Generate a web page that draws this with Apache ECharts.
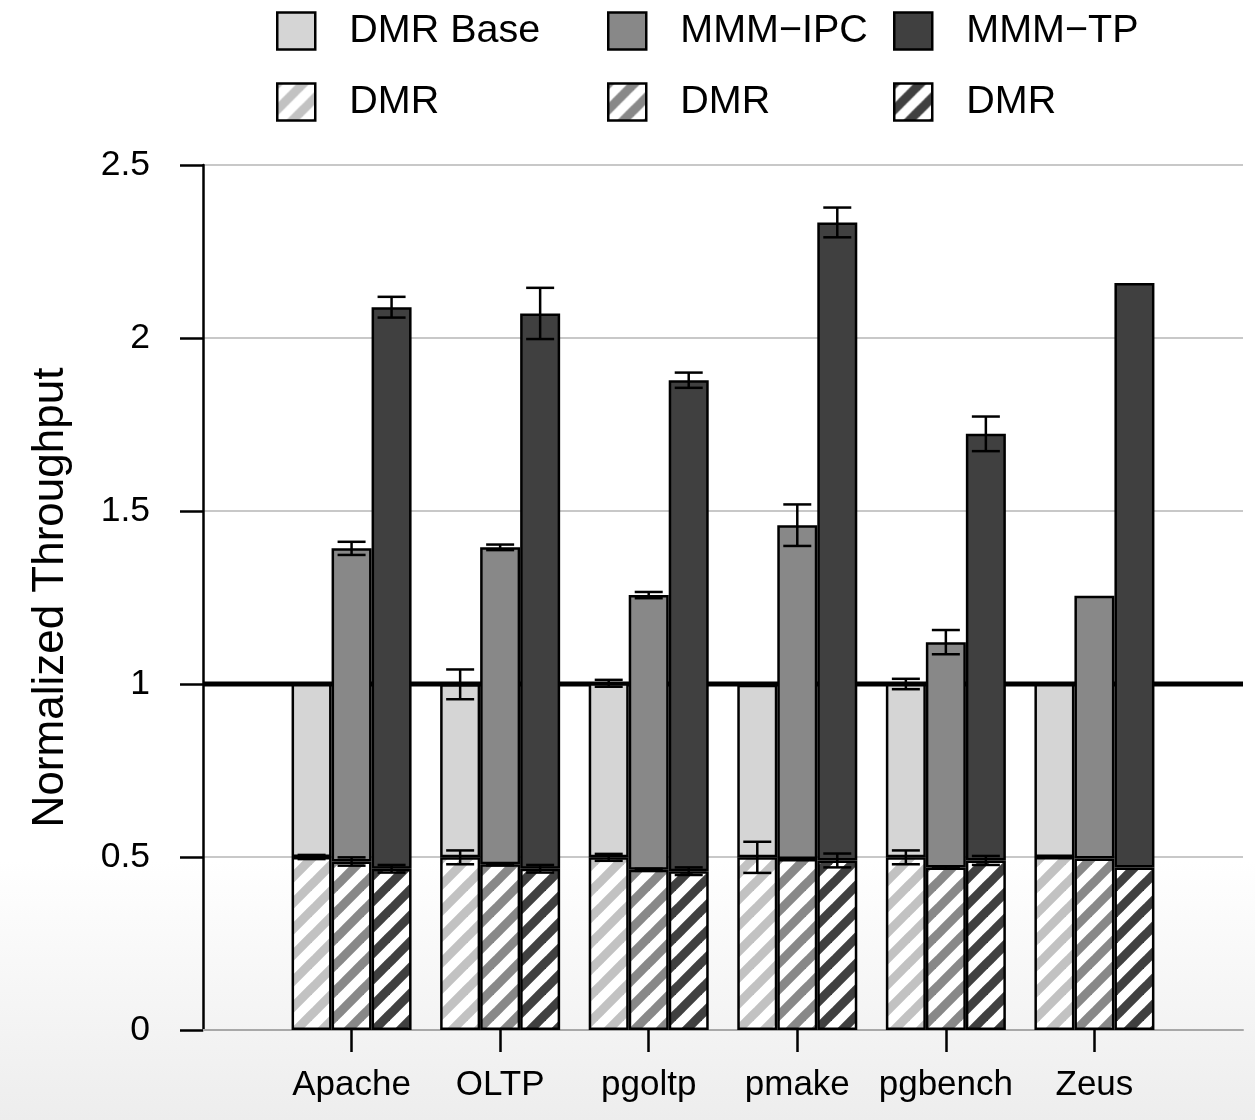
<!DOCTYPE html>
<html>
<head>
<meta charset="utf-8">
<script src="https://cdn.jsdelivr.net/npm/echarts@6/dist/echarts.min.js"></script>
<style>
  html, body { margin: 0; padding: 0; }
  body { width: 1255px; height: 1120px; background: linear-gradient(to bottom, #ffffff 0px, #ffffff 860px, #ededed 1120px); }
  #chart { width: 1255px; height: 1120px; }
</style>
</head>
<body>
<div id="chart"></div>
<script>
// ---------------- data ----------------
const categories = ['Apache', 'OLTP', 'pgoltp', 'pmake', 'pgbench', 'Zeus'];
const yTicks = [0, 0.5, 1, 1.5, 2, 2.5];
const refValue = 1;

// hatched (DMR) part and total height of each column
const dmrInBase    = [0.500, 0.499, 0.499, 0.499, 0.499, 0.500];
const dmrBaseTotal = [1.000, 0.999, 1.002, 0.998, 1.000, 1.000];
const dmrInIpc     = [0.487, 0.479, 0.463, 0.494, 0.470, 0.496];
const ipcTotal     = [1.392, 1.395, 1.257, 1.459, 1.121, 1.255];
const dmrInTp      = [0.466, 0.466, 0.459, 0.490, 0.490, 0.470];
const tpTotal      = [2.089, 2.071, 1.878, 2.334, 1.723, 2.159];

// error half-widths (null = no error bar)
const errDmrInBase    = [0.006, 0.020, 0.010, 0.045, 0.020, null];
const errDmrBaseTotal = [0.002, 0.043, 0.010, 0.002, 0.015, null];
const errDmrInIpc     = [0.012, 0.003, 0.003, null, 0.003, null];
const errIpcTotal     = [0.019, 0.008, 0.009, 0.060, 0.035, null];
const errDmrInTp      = [0.011, 0.011, 0.011, 0.020, 0.013, null];
const errTpTotal      = [0.030, 0.074, 0.022, 0.043, 0.050, null];

// ---------------- styling helpers ----------------
function fontAvailable(name) {
  const c = document.createElement('canvas').getContext('2d');
  c.font = '40px monospace';
  const w0 = c.measureText('Apache pgbench').width;
  c.font = '40px "' + name + '", monospace';
  return c.measureText('Apache pgbench').width !== w0;
}
const narrowOK = fontAvailable('Liberation Sans Narrow');
const xLabelFont = narrowOK ? 'Liberation Sans Narrow' : 'Liberation Sans';
const xLabelSize = narrowOK ? 42 : 35;

function hatch(color) {
  const S = 26;
  const cv = document.createElement('canvas');
  cv.width = S; cv.height = S;
  const c = cv.getContext('2d');
  c.fillStyle = '#ffffff';
  c.fillRect(0, 0, S, S);
  c.strokeStyle = color;
  c.lineWidth = 9;
  for (const o of [-S, 0, S]) {
    c.beginPath();
    c.moveTo(o - 3, S + 3);
    c.lineTo(o + S + 3, -3);
    c.stroke();
  }
  return { image: cv, repeat: 'repeat' };
}

const COL_BASE = '#d5d5d5', COL_IPC = '#888888', COL_TP = '#404040';
const HATCH_BASE = '#c2c2c2';
const BAR_W = 40;
const ERR_CAP = 28;
const LINE_W = 2.5;

// axis categories padded with empty slots on both sides
const axisCats = [''].concat(categories, ['']);
function pad(arr) { return ['-'].concat(arr, ['-']); }
function diff(a, b) { return a.map((v, i) => +(v - b[i]).toFixed(4)); }

function errData(vals, errs) {
  const out = [];
  vals.forEach((v, i) => {
    if (errs[i] != null) out.push([i + 1, v - errs[i], v + errs[i]]);
  });
  return out;
}

function errSeries(vals, errs, offsetIdx) {
  return {
    type: 'custom',
    silent: true,
    z: 10,
    data: errData(vals, errs),
    renderItem: function (params, api) {
      const idx = api.value(0);
      const lo = api.coord([idx, api.value(1)]);
      const hi = api.coord([idx, api.value(2)]);
      const x = lo[0] + offsetIdx * BAR_W;
      const st = { stroke: '#000', lineWidth: LINE_W };
      return {
        type: 'group',
        children: [
          { type: 'line', shape: { x1: x, y1: lo[1], x2: x, y2: hi[1] }, style: st },
          { type: 'line', shape: { x1: x - ERR_CAP / 2, y1: lo[1], x2: x + ERR_CAP / 2, y2: lo[1] }, style: st },
          { type: 'line', shape: { x1: x - ERR_CAP / 2, y1: hi[1], x2: x + ERR_CAP / 2, y2: hi[1] }, style: st }
        ]
      };
    }
  };
}

function barSeries(name, stack, data, color) {
  return {
    name: name,
    type: 'bar',
    stack: stack,
    barWidth: BAR_W,
    barGap: '0%',
    z: 2,
    data: pad(data),
    itemStyle: { color: color, borderColor: '#000', borderWidth: LINE_W }
  };
}

const legendCommon = {
  orient: 'vertical',
  top: 11,
  padding: 0,
  itemWidth: 38,
  itemHeight: 37,
  itemGap: 31,
  selectedMode: false,
  icon: 'rect',
  itemStyle: { borderColor: '#000', borderWidth: LINE_W },
  textStyle: { fontFamily: 'Liberation Sans', fontSize: 39.5, color: '#000', lineHeight: 37, padding: [0, 0, 0, 29] },
  formatter: function (n) { return n.indexOf('DMR-') === 0 ? 'DMR' : n; }
};

const option = {
  animation: false,
  backgroundColor: 'transparent',
  textStyle: { fontFamily: 'Liberation Sans' },
  grid: { left: 203, right: 12, top: 165, bottom: 90, containLabel: false },
  legend: [
    Object.assign({}, legendCommon, { left: 276, data: ['DMR Base', 'DMR-base'] }),
    Object.assign({}, legendCommon, { left: 607, data: ['MMM\u2212IPC', 'DMR-ipc'] }),
    Object.assign({}, legendCommon, { left: 893, data: ['MMM\u2212TP', 'DMR-tp'] })
  ],
  xAxis: {
    type: 'category',
    data: axisCats,
    boundaryGap: false,
    axisLine: { lineStyle: { color: '#a8a8a8', width: 2 } },
    axisTick: {
      show: true, length: 22,
      interval: function (i, v) { return v !== ''; },
      lineStyle: { color: '#000', width: LINE_W }
    },
    axisLabel: {
      interval: 0, margin: 38, color: '#000',
      fontFamily: xLabelFont, fontSize: xLabelSize
    },
    splitLine: { show: false }
  },
  yAxis: {
    type: 'value',
    min: yTicks[0], max: yTicks[yTicks.length - 1], interval: yTicks[1] - yTicks[0],
    name: 'Normalized Throughput',
    nameLocation: 'middle',
    nameGap: 130,
    nameTextStyle: { fontFamily: 'Liberation Sans', fontSize: 44, color: '#000' },
    axisLine: { show: true, lineStyle: { color: '#000', width: LINE_W } },
    axisTick: { show: true, length: 23, lineStyle: { color: '#000', width: LINE_W } },
    axisLabel: { fontFamily: 'Liberation Sans', fontSize: 35.5, color: '#000', margin: 53 },
    splitLine: { show: true, lineStyle: { color: '#c8c8c8', width: 2 } }
  },
  series: [
    {
      type: 'line', silent: true, z: 1, symbol: 'none',
      data: axisCats.map(function () { return refValue; }),
      lineStyle: { color: '#000', width: 5 }
    },
    barSeries('DMR-base', 'b', dmrInBase, hatch(HATCH_BASE)),
    barSeries('DMR Base', 'b', diff(dmrBaseTotal, dmrInBase), COL_BASE),
    barSeries('DMR-ipc', 'i', dmrInIpc, hatch(COL_IPC)),
    barSeries('MMM\u2212IPC', 'i', diff(ipcTotal, dmrInIpc), COL_IPC),
    barSeries('DMR-tp', 't', dmrInTp, hatch(COL_TP)),
    barSeries('MMM\u2212TP', 't', diff(tpTotal, dmrInTp), COL_TP),
    errSeries(dmrInBase, errDmrInBase, -1),
    errSeries(dmrBaseTotal, errDmrBaseTotal, -1),
    errSeries(dmrInIpc, errDmrInIpc, 0),
    errSeries(ipcTotal, errIpcTotal, 0),
    errSeries(dmrInTp, errDmrInTp, 1),
    errSeries(tpTotal, errTpTotal, 1)
  ]
};

const chart = echarts.init(document.getElementById('chart'), null, { renderer: 'canvas' });
chart.setOption(option);
</script>
</body>
</html>
